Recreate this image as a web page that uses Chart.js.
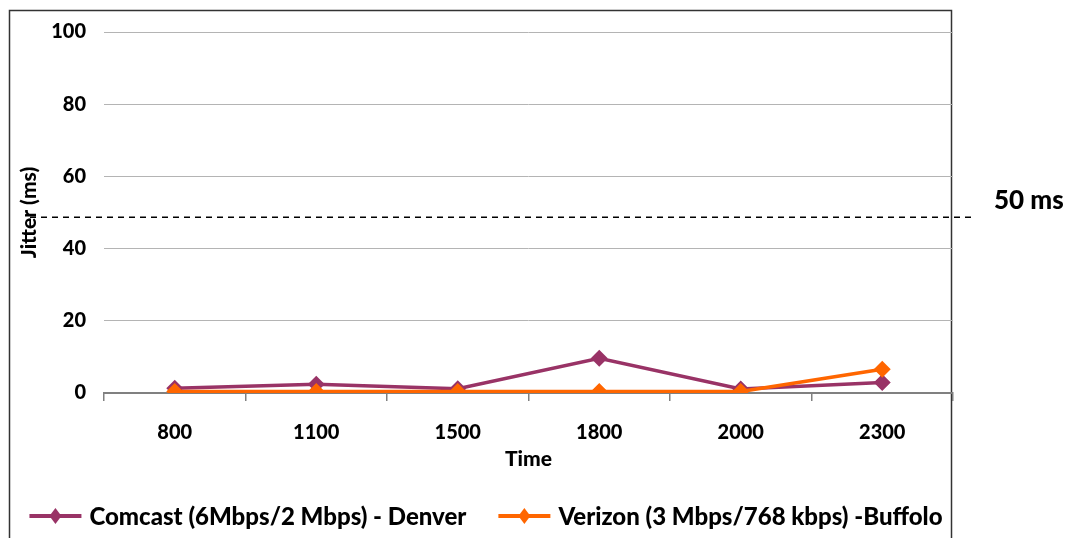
<!DOCTYPE html>
<html>
<head>
<meta charset="utf-8">
<script src="https://cdn.jsdelivr.net/npm/chart.js@4/dist/chart.umd.min.js"></script>
<style>
  html, body { margin: 0; padding: 0; background: #fff; overflow: hidden; }
  #wrap { width: 1070px; height: 538px; position: relative; }
</style>
</head>
<body>
<div id="wrap"><canvas id="jitterChart" width="1070" height="538"></canvas></div>
<script>
// ---- data ----
const times = ['800', '1100', '1500', '1800', '2000', '2300'];
const comcast = [1.3, 2.4, 1.2, 9.6, 1.1, 2.9];
const verizon = [0.4, 0.4, 0.4, 0.4, 0.4, 6.6];
const seriesNames = ['Comcast (6Mbps/2 Mbps) - Denver', 'Verizon (3 Mbps/768 kbps) -Buffolo'];
const seriesColors = ['#993366', '#ff6600'];
const yTicks = [0, 20, 40, 60, 80, 100];
const thresholdValue = 48.7;
const thresholdLabel = '50 ms';

const FONT = 'Lato, "Open Sans", sans-serif';
const W = '900';

// box, dashed threshold line and legend
const decor = {
  id: 'decor',
  beforeDraw(chart) {
    const ctx = chart.ctx;
    ctx.save();
    ctx.strokeStyle = '#333';
    ctx.lineWidth = 1.5;
    ctx.strokeRect(9.5, 10.5, 942, 560);
    ctx.restore();
  },
  afterDatasetsDraw(chart) {
    const ctx = chart.ctx;
    const y = chart.scales.y.getPixelForValue(thresholdValue);
    ctx.save();
    ctx.strokeStyle = '#000';
    ctx.lineWidth = 1.5;
    ctx.setLineDash([6, 5]);
    ctx.beginPath();
    ctx.moveTo(30, y);
    ctx.lineTo(976, y);
    ctx.stroke();
    ctx.setLineDash([]);
    ctx.fillStyle = '#000';
    ctx.font = W + ' 26px ' + FONT;
    ctx.textAlign = 'left';
    ctx.textBaseline = 'middle';
    ctx.fillText(thresholdLabel, 994, y - 17);
    ctx.restore();
  },
  afterDraw(chart) {
    // legend: line + diamond, then label
    const ctx = chart.ctx;
    ctx.save();
    ctx.font = W + ' 24px ' + FONT;
    const lineLen = 52, gap = 8, itemGap = 32;
    const widths = seriesNames.map(n => ctx.measureText(n).width);
    const total = widths.reduce((a, w) => a + lineLen + gap + w, 0) + itemGap;
    let x = 486 - total / 2;
    const y = 516;
    seriesNames.forEach((name, i) => {
      ctx.strokeStyle = seriesColors[i];
      ctx.fillStyle = seriesColors[i];
      ctx.lineWidth = 4;
      ctx.beginPath();
      ctx.moveTo(x, y);
      ctx.lineTo(x + lineLen, y);
      ctx.stroke();
      const cx = x + lineLen / 2;
      ctx.beginPath();
      ctx.moveTo(cx, y - 8);
      ctx.lineTo(cx + 6, y);
      ctx.lineTo(cx, y + 8);
      ctx.lineTo(cx - 6, y);
      ctx.closePath();
      ctx.fill();
      ctx.fillStyle = '#000';
      ctx.textAlign = 'left';
      ctx.textBaseline = 'middle';
      ctx.fillText(name, x + lineLen + gap, y + 1);
      x += lineLen + gap + widths[i] + itemGap;
    });
    ctx.restore();
  }
};

document.addEventListener('DOMContentLoaded', () => {
  const ctx = document.getElementById('jitterChart').getContext('2d');
  new Chart(ctx, {
    type: 'line',
    data: {
      labels: times,
      datasets: [
        {
          label: seriesNames[0],
          data: comcast,
          borderColor: seriesColors[0],
          backgroundColor: seriesColors[0],
          borderWidth: 3.5,
          pointStyle: 'rectRot',
          pointRadius: 6,
          tension: 0,
          order: 1
        },
        {
          label: seriesNames[1],
          data: verizon,
          borderColor: seriesColors[1],
          backgroundColor: seriesColors[1],
          borderWidth: 3.5,
          pointStyle: 'rectRot',
          pointRadius: 6,
          tension: 0,
          order: 0
        }
      ]
    },
    options: {
      responsive: false,
      animation: false,
      devicePixelRatio: 1,
      layout: { padding: { left: 9, right: 117, top: 32, bottom: 66 } },
      plugins: {
        legend: { display: false },
        tooltip: { enabled: false }
      },
      scales: {
        x: {
          offset: true,
          grid: { offset: true, drawOnChartArea: false, drawTicks: true, tickLength: 8, color: '#808080', lineWidth: 1.5 },
          border: { display: true, color: '#808080', width: 2 },
          ticks: { color: '#000', font: { family: FONT, weight: W, size: 20 }, padding: 20 },
          title: { display: true, text: 'Time', color: '#000', font: { family: FONT, weight: W, size: 21 }, padding: { top: 0, bottom: 0 } },
          afterFit: s => { s.height = 538 - 393 - 66; }
        },
        y: {
          min: 0,
          max: 100,
          afterBuildTicks: s => { s.ticks = yTicks.map(v => ({ value: v })); },
          grid: { drawTicks: false, color: '#b4b4b4', lineWidth: 1 },
          border: { display: false },
          ticks: { color: '#000', font: { family: FONT, weight: W, size: 20 }, padding: 18 },
          title: { display: true, text: 'Jitter (ms)', color: '#000', font: { family: FONT, weight: W, size: 21 }, padding: { top: 8, bottom: 0 } },
          afterFit: s => { s.width = 95; }
        }
      }
    },
    plugins: [decor]
  });
});
</script>
</body>
</html>
